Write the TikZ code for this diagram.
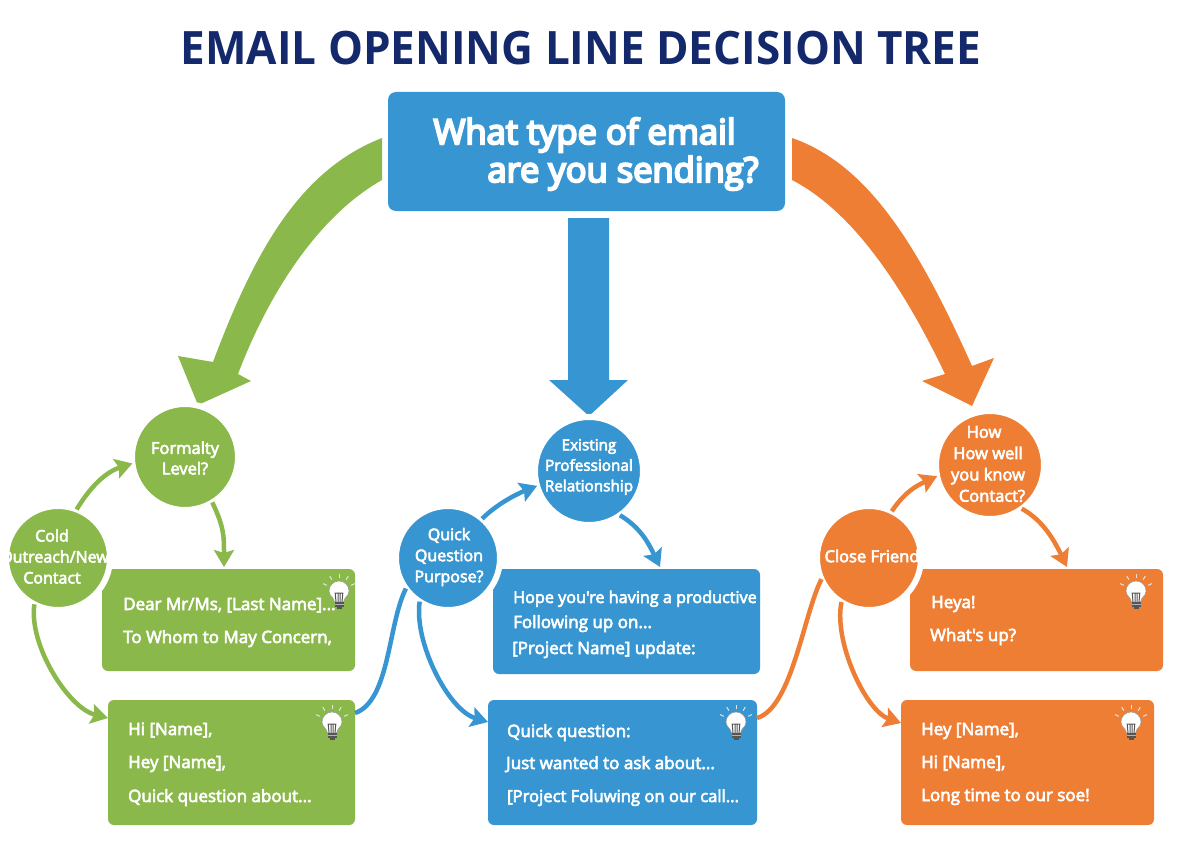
\documentclass[tikz,border=0pt]{standalone}
\usepackage{fontspec}
\setmainfont{Open Sans}
\newfontfamily\medf[FakeBold=3.6]{Open Sans}
\newfontfamily\headf[FakeBold=6]{Open Sans}
\newfontfamily\titlef[FakeStretch=0.957]{Open Sans Bold}
\usetikzlibrary{arrows.meta,calc}
\definecolor{cg}{HTML}{8AB84B}
\definecolor{cb}{HTML}{3796D2}
\definecolor{co}{HTML}{EF7E35}
\definecolor{ctitle}{HTML}{14296B}
\definecolor{bulbgray}{HTML}{555555}
\tikzset{
  x=1pt,y=-1pt,
  box/.style={rounded corners=6pt,inner sep=0pt,outer sep=0pt,anchor=north west},
  gbox/.style={box,fill=cg},
  bbox/.style={box,fill=cb},
  obox/.style={box,fill=co},
  disc/.style={circle,draw=white,line width=6pt,inner sep=0pt,outer sep=0pt},
  ctext/.style={text=white,font=\medf\fontsize{16.5}{20.5}\selectfont,align=center,inner sep=0pt},
  ltext/.style={text=white,font=\medf\fontsize{17}{20}\selectfont,anchor=base west,inner sep=0pt},
  link/.style={line width=4.5pt},
  flow/.style={link,-{Stealth[length=17pt,width=20pt,inset=3pt]}},
  pics/bulb/.style={code={
    \foreach \a in {-65,-32,0,32,65}{
      \draw[white!90!black,line width=1pt] ($(0,-3)+({13.5*sin(\a)},{-13.5*cos(\a)})$) -- ($(0,-3)+({17.5*sin(\a)},{-17.5*cos(\a)})$);
    }
    \filldraw[fill=white,draw=bulbgray!60,line width=.5pt] (-4.5,8) .. controls (-5,3) and (-10,2) .. (-10,-3)
      arc[start angle=180,end angle=0,radius=10pt]
      .. controls (10,2) and (5,3) .. (4.5,8) -- cycle;
    \draw[bulbgray,line width=1pt] (-3,8) -- (-3.8,-1) -- (3.8,-1) -- (3,8) (-1,8) -- (-1,-1) (1,8) -- (1,-1);
    \fill[bulbgray] (-4.5,8) rectangle (4.5,13);
    \draw[white!70!black,line width=.6pt] (-4.5,10.5) -- (4.5,10.5);
    \fill[bulbgray] (-2.5,13) rectangle (2.5,14.5);
  }}
}
\begin{document}
\begin{tikzpicture}
\useasboundingbox (0,0) rectangle (1184,864);
\fill[white] (0,0) rectangle (1184,864);

\node[text=ctitle,font=\titlef\fontsize{46}{50}\selectfont,inner sep=0pt] (title) at (581,48) {EMAIL OPENING LINE DECISION TREE};

\node[box,fill=cb,rounded corners=8pt,minimum width=397pt,minimum height=119pt] (main) at (388,92) {};
\node[text=white,font=\headf\fontsize{34.5}{38}\selectfont,align=left,inner sep=0pt] (maintext) at (596,154) {What type of email\\\hspace*{54pt}are you sending?};

% large arrows
\fill[cg] (382,138) .. controls (300,170) and (255,250) .. (213,362) -- (178,356) -- (198,405) -- (251,381) -- (238,374)
  .. controls (270,290) and (320,215) .. (382,180) -- cycle;
\fill[cb] (568,218) -- (609,218) -- (609,380) -- (628,380) -- (589,416) -- (549,380) -- (568,380) -- cycle;
\fill[co] (792,138) .. controls (870,165) and (920,250) .. (972,366) -- (994,358) -- (972,406) -- (922,381) -- (945,374)
  .. controls (900,280) and (850,210) .. (792,180) -- cycle;

% answer boxes
\node[gbox,minimum width=253pt,minimum height=102pt] (g1) at (102,569) {};
\node[gbox,minimum width=247pt,minimum height=125pt] (g2) at (108,700) {};
\node[bbox,minimum width=267pt,minimum height=105pt] (b1) at (493,569) {};
\node[bbox,minimum width=269pt,minimum height=125pt] (b2) at (488,700) {};
\node[obox,minimum width=253pt,minimum height=102pt] (o1) at (910,569) {};
\node[obox,minimum width=253pt,minimum height=125pt] (o2) at (901,700) {};

% circles
\node[disc,fill=cg,minimum size=106pt] (form) at (185,457) {};
\node[disc,fill=cg,minimum size=104pt] (cold) at (58,558) {};
\node[disc,fill=cb,minimum size=108pt] (exist) at (589,471) {};
\node[disc,fill=cb,minimum size=104pt] (quick) at (448,558) {};
\node[disc,fill=co,minimum size=108pt] (how) at (990,465) {};
\node[disc,fill=co,minimum size=104pt] (close) at (869,558) {};

\node[ctext] (formt) at (185,458) {Formalty\\Level?};
\node[ctext,font=\medf\fontsize{16}{21}\selectfont] (coldt) at (54.5,556.5) {\hspace*{-5pt}Cold\\Outreach/New\\\hspace*{-5pt}Contact};
\node[ctext,font=\medf\fontsize{15.3}{20.5}\selectfont] (existt) at (589,467) {Existing\\Professional\\Relationship};
\node[ctext,font=\medf\fontsize{16}{21}\selectfont] (quickt) at (449,557) {Quick\\Question\\Purpose?};
\node[ctext,font=\medf\fontsize{16.5}{21.3}\selectfont] (howt) at (988,464) {\hspace*{-8pt}How\\How well\\you know\\\hspace*{8pt}Contact?};
\node[ctext] (closet) at (872,556) {Close Friend};

% connectors
\draw[flow,cg] (cold.69) .. controls +(15,-25) and +(-25,8) .. (form.187);
\draw[flow,cg] (form.-59) .. controls +(12,25) and +(0,-30) .. ($(g1.north west)+(122,-2)$);
\draw[flow,cg] (cold.243) .. controls +(-6,40) and +(-40,-10) .. ($(g2.north west)+(0,18)$);
\draw[link,cb] ($(g2.north east)+(0,13)$) .. controls +(35,-12) and +(-18,35) .. (quick.216);
\draw[flow,cb] (quick.49) .. controls +(15,-15) and +(-20,8) .. (exist.196);
\draw[flow,cb] (exist.-55) .. controls +(20,12) and +(-12,-25) .. ($(b1.north west)+(167,-2)$);
\draw[flow,cb] (quick.237) .. controls +(-6,40) and +(-40,-12) .. ($(b2.north west)+(0,22)$);
\draw[link,co] ($(b2.north east)+(0,18)$) .. controls +(35,-10) and +(-18,35) .. (close.204);
\draw[flow,co] (close.64) .. controls +(12,-18) and +(-22,10) .. (how.192);
\draw[flow,co] (how.-54) .. controls +(22,12) and +(-12,-25) .. ($(o1.north west)+(157,-2)$);
\draw[flow,co] (close.238) .. controls +(-8,40) and +(-35,-12) .. ($(o2.north west)+(0,23)$);

% box texts
\node[ltext] (g1a) at (123,610) {Dear Mr/Ms, [Last Name]...};
\node[ltext] (g1b) at (123,643) {To Whom to May Concern,};
\node[ltext] (g2a) at (128,735) {Hi [Name],};
\node[ltext] (g2b) at (128,768) {Hey [Name],};
\node[ltext] (g2c) at (128,802) {Quick question about...};
\node[ltext,font=\medf\fontsize{16.2}{20}\selectfont] (b1a) at (513,603) {Hope you're having a productive};
\node[ltext] (b1b) at (513,628) {Following up on...};
\node[ltext] (b1c) at (512,654) {[Project Name] update:};
\node[ltext] (b2a) at (507,737) {Quick question:};
\node[ltext] (b2b) at (506,769) {Just wanted to ask about...};
\node[ltext,font=\medf\fontsize{16.6}{20}\selectfont] (b2c) at (507,802) {[Project Foluwing on our call...};
\node[ltext] (o1a) at (931,608) {Heya!};
\node[ltext] (o1b) at (930,641) {What's up?};
\node[ltext] (o2a) at (921,735) {Hey [Name],};
\node[ltext] (o2b) at (921,768) {Hi [Name],};
\node[ltext] (o2c) at (921,801) {Long time to our soe!};

% bulbs
\path (339,594) pic {bulb};
\path (332,725) pic {bulb};
\path (736,725) pic {bulb};
\path (1136,594) pic {bulb};
\path (1131,725) pic {bulb};
\end{tikzpicture}
\end{document}
